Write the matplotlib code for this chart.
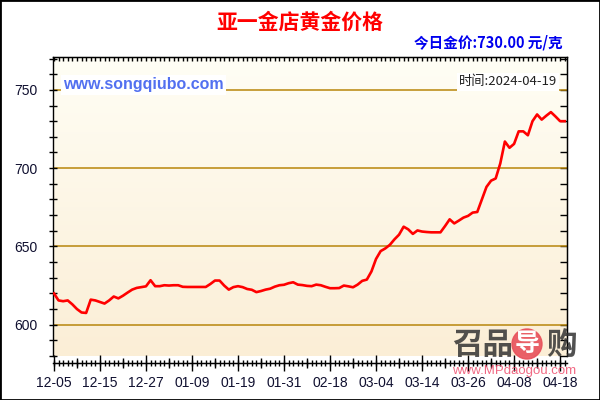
import numpy as np
import matplotlib
matplotlib.use("Agg")
import matplotlib.pyplot as plt
from matplotlib.colors import LinearSegmentedColormap
from matplotlib.patches import Rectangle, Ellipse

plt.rcParams['font.family'] = ['Liberation Sans', 'Noto Sans CJK SC', 'DejaVu Sans']
CJK = ['Noto Sans CJK SC', 'DejaVu Sans']

# daily gold price (元/克), 2023-12-05 .. 2024-04-19
prices = [
    620.0, 615.5, 615.0, 615.5, 613.0, 610.0, 607.8, 607.5, 616.0, 615.5,
    614.5, 613.5, 615.5, 618.0, 616.8, 618.5, 620.5, 622.4, 623.5, 624.0,
    624.5, 628.4, 624.6, 624.6, 625.2, 625.0, 625.2, 625.2, 624.2, 624.1,
    624.1, 624.1, 624.1, 624.1, 626.0, 628.2, 628.2, 625.0, 622.4, 624.0,
    624.6, 624.0, 622.8, 622.3, 620.8, 621.5, 622.4, 623.0, 624.3, 625.2,
    625.5, 626.5, 627.1, 625.6, 625.3, 624.8, 624.6, 625.6, 625.2, 624.2,
    623.3, 623.3, 623.4, 625.0, 624.5, 623.9, 625.6, 628.0, 628.8, 634.0,
    642.0, 647.0, 648.7, 651.0, 654.5, 657.5, 662.6, 660.9, 658.0, 660.2,
    659.5, 659.2, 659.0, 659.0, 659.0, 663.0, 667.3, 664.7, 666.5, 668.4,
    669.5, 671.6, 672.0, 680.0, 688.0, 692.0, 693.4, 703.0, 717.0, 713.0,
    715.5, 723.5, 723.5, 721.0, 730.0, 734.3, 731.0, 733.5, 735.8, 733.0,
    730.0, 730.0,
]
date_labels = ["12-05", "12-15", "12-27", "01-09", "01-19", "01-31",
               "02-18", "03-04", "03-14", "03-26", "04-08", "04-18"]
grid_levels = [600, 650, 700, 750]

fig = plt.figure(figsize=(6, 4), dpi=100)
fig.patch.set_facecolor("white")
ax = fig.add_axes([53 / 600, 44 / 400, 514 / 600, 299 / 400])

x = np.arange(len(prices))
x_lo, x_hi = -0.2, len(prices) - 0.5
y_lo, y_hi = 580, 771

# background gradient
cmap = LinearSegmentedColormap.from_list("bg", ["#FBEED6", "#FFFEF5"])
grad = np.linspace(0, 1, 256).reshape(-1, 1)
ax.imshow(grad, extent=[0, 1, 0, 1], transform=ax.transAxes, aspect="auto",
          cmap=cmap, origin="lower", zorder=0)

for lvl in grid_levels:
    ax.axhline(lvl, color="#B8860B", lw=1.1, zorder=1)

ax.plot(x, prices, color="#FF0000", lw=1.9, zorder=3)

ax.set_xlim(x_lo, x_hi)
ax.set_ylim(y_lo, y_hi)

# y axis
yt = list(range(580, 771, 10))
ax.set_yticks(yt)
ax.set_yticklabels([str(v) if v in grid_levels else "" for v in yt])
ax.tick_params(axis="y", direction="inout", length=6, width=1, pad=8,
               labelsize=10, labelcolor="#101030")

# x axis
ax.set_xticks(x[::10])
ax.set_xticklabels(date_labels)
ax.set_xticks(x[::5], minor=True)
ax.tick_params(axis="x", which="major", direction="inout", length=11, width=1,
               pad=4, labelsize=10, labelcolor="#101030")
ax.tick_params(axis="x", which="minor", direction="inout", length=7, width=1)
ax.spines["bottom"].set_position(("outward", 5))
for s in ax.spines.values():
    s.set_color("black")
    s.set_linewidth(1)

# small ticks every day on bottom
sec_b = ax.secondary_xaxis("bottom")
sec_b.spines["bottom"].set_position(("outward", 5))
sec_b.set_xticks(x)
sec_b.set_xticklabels([])
sec_b.tick_params(direction="inout", length=5, width=1)

# top and right axes with inward ticks
sec_t = ax.secondary_xaxis("top")
sec_t.set_xticks(x)
sec_t.set_xticklabels([])
sec_t.tick_params(direction="in", length=3, width=1)
sec_r = ax.secondary_yaxis("right")
sec_r.set_yticks(yt)
sec_r.set_yticklabels([])
sec_r.tick_params(direction="in", length=5, width=1)

# titles
fig.text(0.5, 1 - 22 / 400, "亚一金店黄金价格", color="red", fontsize=15,
         fontweight="bold", ha="center", va="center", family=CJK)
fig.text(563 / 600, 1 - 43 / 400, "今日金价:730.00 元/克", color="#0000EE",
         fontsize=10.5, fontweight="bold", ha="right", va="center", family=CJK)

# watermarks
fig.text(63 / 600, 1 - 85 / 400, "www.songqiubo.com", color="#5270F0",
         fontsize=11.5, fontweight="bold", ha="left", va="center",
         bbox=dict(facecolor="white", edgecolor="none", pad=1.5))
fig.text(557 / 600, 1 - 82 / 400, "时间:2024-04-19", color="#202020",
         fontsize=9.5, ha="right", va="center", family=CJK,
         bbox=dict(facecolor="white", edgecolor="none", pad=1.5))

fig.text(452 / 600, 1 - 345 / 400, "召品", color="#333333", fontsize=22,
         fontweight="bold", ha="left", va="center", family=CJK, alpha=0.85)
fig.patches.append(Ellipse((527 / 600, 1 - 344 / 400), 30 / 600, 30 / 400,
                           transform=fig.transFigure, color="#E8505A", alpha=0.9))
fig.text(527 / 600, 1 - 344 / 400, "导", color="white", fontsize=18,
         fontweight="bold", ha="center", va="center", family=CJK)
fig.text(546 / 600, 1 - 345 / 400, "购", color="#333333", fontsize=22,
         fontweight="bold", ha="left", va="center", family=CJK, alpha=0.85)
fig.text(514 / 600, 1 - 371 / 400, "www.MPdaogou.com", color="#EE4466",
         fontsize=9.5, ha="center", va="center", alpha=0.8)

# outer frame
fig.patches.append(Rectangle((0, 0), 1, 1, transform=fig.transFigure,
                             fill=False, edgecolor="black", lw=2))

fig.savefig("out.png", dpi=100)
